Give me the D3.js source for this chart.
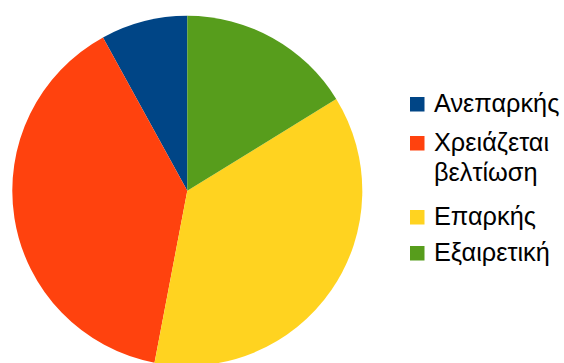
<!doctype html>
<meta charset="utf-8">
<title>Pie</title>
<style>
  body { margin: 0; background: #fff; }
  svg { display: block; }
</style>
<svg id="visual" width="564" height="363"></svg>
<script src="https://cdn.jsdelivr.net/npm/d3@7/dist/d3.min.js"></script>
<script>

// (data)
var categories = ["Ανεπαρκής", "Χρειάζεται βελτίωση", "Επαρκής", "Εξαιρετική"];
var values = [8, 39, 36.8, 16.2];
var colors = ["#004586", "#ff420e", "#ffd320", "#579d1c"];
var legendLines = [["Ανεπαρκής"], ["Χρειάζεται", "βελτίωση"], ["Επαρκής"], ["Εξαιρετική"]];

var svg = d3.select("#visual");

// (pie) slices run counter-clockwise from 12 o'clock
var pie = d3.pie()
  .sort(null)
  .startAngle(0)
  .endAngle(-2 * Math.PI);

var arc = d3.arc().innerRadius(0).outerRadius(175);

svg.append("g")
  .attr("transform", "translate(187.3,190.8)")
  .selectAll("path")
  .data(pie(values))
  .enter()
  .append("path")
  .attr("d", arc)
  .attr("fill", function(d, i) { return colors[i]; });

// (legend)
var baselines = [112, 151, 225, 261];
var legend = svg.append("g")
  .selectAll("g")
  .data(categories)
  .enter()
  .append("g")
  .attr("transform", function(d, i) { return "translate(0," + baselines[i] + ")"; });

legend.append("rect")
  .attr("x", 410)
  .attr("y", -15)
  .attr("width", 14.5)
  .attr("height", 14.5)
  .attr("fill", function(d, i) { return colors[i]; });

legend.append("text")
  .attr("font-family", "'Liberation Sans', Arial, sans-serif")
  .attr("font-size", "25.3px")
  .attr("fill", "#000")
  .selectAll("tspan")
  .data(function(d, i) { return legendLines[i]; })
  .enter()
  .append("tspan")
  .attr("x", 434)
  .attr("y", function(d, j) { return j * 30; })
  .text(function(d) { return d; });

</script>
